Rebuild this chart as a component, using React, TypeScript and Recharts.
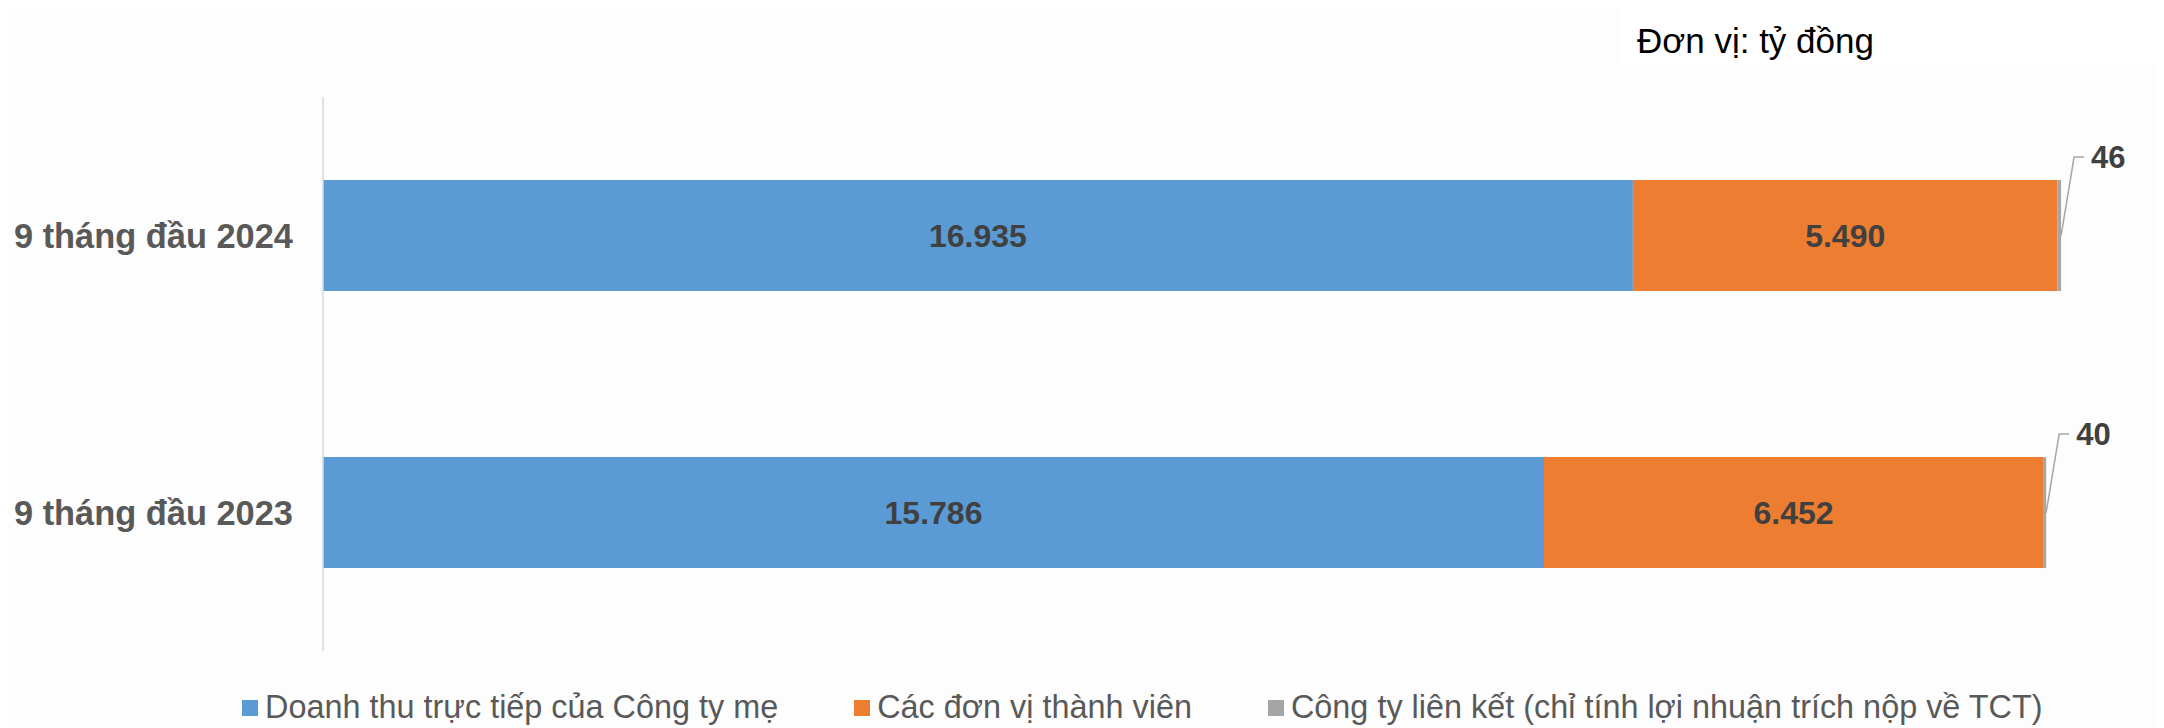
import React from 'react';
import { Bar, BarChart, LabelList, XAxis, YAxis } from 'recharts';

const periods = ['9 tháng đầu 2024', '9 tháng đầu 2023'];
const parentRevenue = [16935, 15786];
const memberUnits = [5490, 6452];
const associates = [46, 40];

const seriesNames = [
  'Doanh thu trực tiếp của Công ty mẹ',
  'Các đơn vị thành viên',
  'Công ty liên kết (chỉ tính lợi nhuận trích nộp về TCT)',
];
const colors = ['#5b9bd5', '#ed7d31', '#a5a5a5'];

const data = periods.map((name, i) => ({
  name,
  parent: parentRevenue[i],
  members: memberUnits[i],
  assoc: associates[i],
}));

const FONT = '"Liberation Sans", Arial, sans-serif';
const fmt = (v: any) => String(v).replace(/\B(?=(\d{3})+(?!\d))/g, '.');

const CategoryTick = (props: any) => {
  const { x, y, payload } = props;
  return (
    <text x={x} y={y} dy={12} textAnchor="end" fill="#595959" fontSize={34.4} fontWeight="bold" fontFamily={FONT}>
      {payload.value}
    </text>
  );
};

const OutsideLabel = (props: any) => {
  const { x, y, width, height, value } = props;
  const ex = x + width;
  const ey = y + height / 2;
  const lx = ex + 30;
  const ly = y - 23;
  return (
    <g>
      <polyline points={`${ex},${ey} ${lx - 17},${ly} ${lx - 7},${ly}`} fill="none" stroke="#a6a6a6" strokeWidth={1.5} />
      <text x={lx} y={ly} dy={11} fill="#404040" fontSize={31} fontWeight="bold" fontFamily={FONT}>
        {fmt(value)}
      </text>
    </g>
  );
};

export default function App() {
  return (
    <div style={{ position: 'relative', width: 2156, height: 720, fontFamily: FONT, background: '#fdfdfd' }}>
      <div
        style={{
          position: 'absolute',
          left: 1611,
          top: 0,
          width: 545,
          height: 57,
          background: '#ffffff',
        }}
      />
      <div style={{ position: 'absolute', left: 1629, top: 14, fontSize: 35, color: '#000', lineHeight: '38px' }}>
        Đơn vị: tỷ đồng
      </div>

      <BarChart
        width={2156}
        height={720}
        data={data}
        layout="vertical"
        barCategoryGap="30%"
        margin={{ top: 89, right: 62, bottom: 77, left: 0 }}
      >
        <XAxis type="number" hide domain={[0, 23000]} />
        <YAxis
          yAxisId="b_cat"
          type="category"
          dataKey="name"
          width={314}
          axisLine={false}
          tickLine={false}
          tickSize={0}
          tickMargin={29}
          tick={<CategoryTick />}
        />
        <YAxis
          yAxisId="a_frame"
          type="number"
          domain={[0, 2]}
          ticks={[0, 1, 2]}
          tick={false}
          tickSize={9}
          width={1}
          axisLine={{ stroke: '#d9d9d9', strokeWidth: 1.5 }}
          tickLine={{ stroke: '#d9d9d9', strokeWidth: 1.5 }}
        />
        <Bar yAxisId="b_cat" dataKey="parent" stackId="a" fill={colors[0]} isAnimationActive={false}>
          <LabelList dataKey="parent" position="center" formatter={fmt} fill="#404040" fontSize={32} fontWeight="bold" fontFamily={FONT} />
        </Bar>
        <Bar yAxisId="b_cat" dataKey="members" stackId="a" fill={colors[1]} isAnimationActive={false}>
          <LabelList dataKey="members" position="center" formatter={fmt} fill="#404040" fontSize={32} fontWeight="bold" fontFamily={FONT} />
        </Bar>
        <Bar yAxisId="b_cat" dataKey="assoc" stackId="a" fill={colors[2]} isAnimationActive={false}>
          <LabelList dataKey="assoc" content={<OutsideLabel />} />
        </Bar>
      </BarChart>

      <div
        style={{
          position: 'absolute',
          left: 234,
          top: 681,
          display: 'flex',
          alignItems: 'center',
          fontSize: 32.4,
          color: '#595959',
          whiteSpace: 'nowrap',
        }}
      >
        {seriesNames.map((n, i) => (
          <div key={n} style={{ display: 'flex', alignItems: 'center', marginRight: 76 }}>
            <span style={{ display: 'inline-block', width: 16, height: 16, background: colors[i], marginRight: 7 }} />
            <span>{n}</span>
          </div>
        ))}
      </div>
    </div>
  );
}
